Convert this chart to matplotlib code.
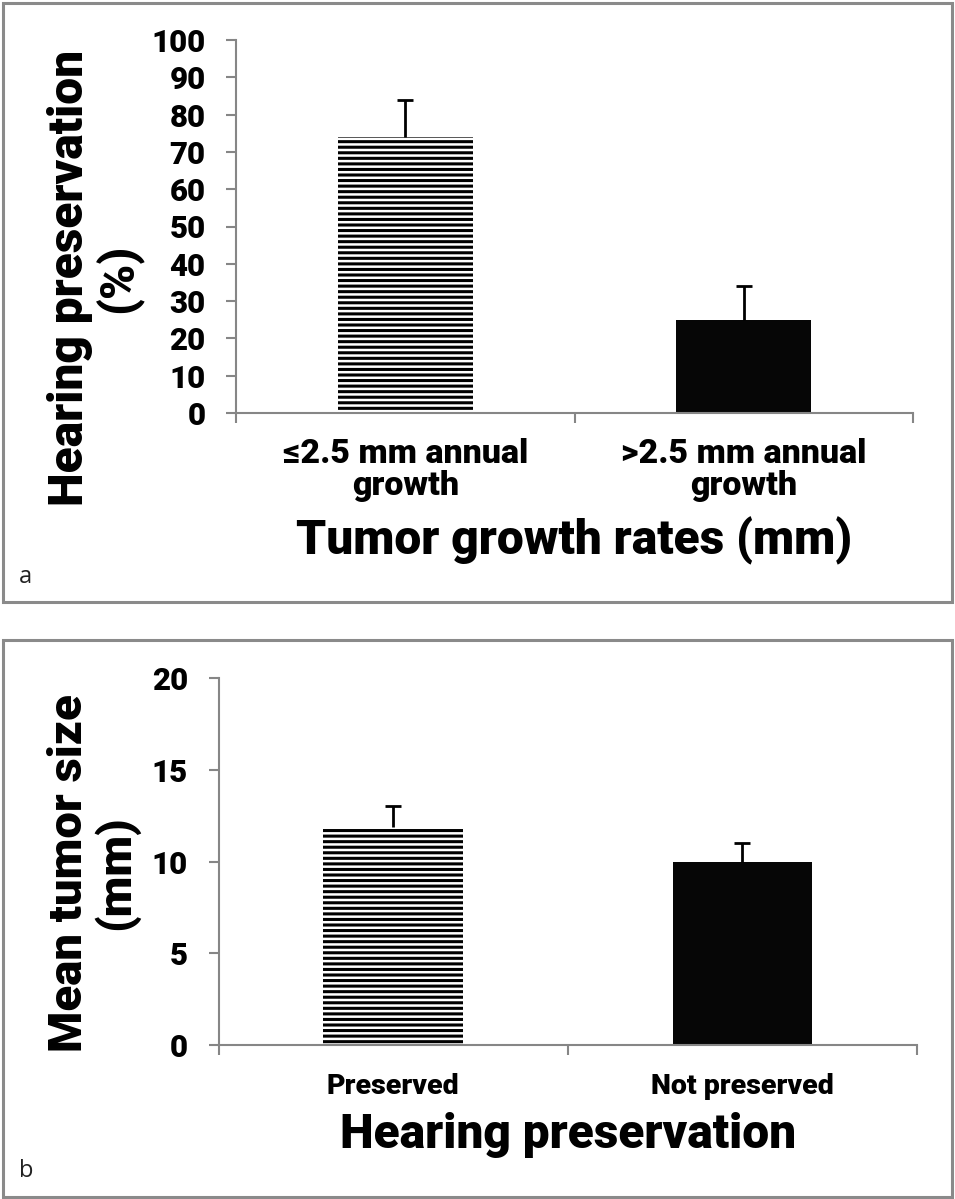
import matplotlib
matplotlib.use("Agg")
import matplotlib.pyplot as plt
from matplotlib.patches import Rectangle

# ---------------- data ----------------
cats_a = ["\u22642.5 mm annual\ngrowth", ">2.5 mm annual\ngrowth"]
vals_a = [74, 25]
err_a = [10, 9]
yticks_a = [0, 10, 20, 30, 40, 50, 60, 70, 80, 90, 100]
ylabel_a = "Hearing preservation\n(%)"
xlabel_a = "Tumor growth rates (mm)"

cats_b = ["Preserved", "Not preserved"]
vals_b = [11.9, 10]
err_b = [1.1, 1.0]
yticks_b = [0, 5, 10, 15, 20]
ylabel_b = "Mean tumor size\n(mm)"
xlabel_b = "Hearing preservation"

# ---------------- style ----------------
FONT = ["Roboto", "Liberation Sans", "DejaVu Sans"]
WEIGHT = 900
plt.rcParams["font.family"] = FONT
plt.rcParams["font.weight"] = WEIGHT
plt.rcParams["hatch.linewidth"] = 2.2

W, H = 955, 1199
fig = plt.figure(figsize=(W / 100, H / 100), dpi=100)
fig.patch.set_facecolor("white")

GRAY = "#868686"


def fx(px):
    return px / W


def fy(py):
    return 1 - py / H


def panel(left, right, top, bottom, cats, vals, errs, yticks, catsize, catpad):
    ax = fig.add_axes([fx(left), fy(bottom), fx(right) - fx(left), fy(top) - fy(bottom)])
    x = list(range(len(cats)))
    bars = ax.bar(x, vals, width=0.4, color=["white", "#060606"],
                  edgecolor=["black", "#555555"], linewidth=0, zorder=2)
    bars[0].set_hatch("---")
    bars[0].set_edgecolor("black")
    bars[0].set_linewidth(0)
    _, caps, _ = ax.errorbar(x, vals, yerr=[[0] * len(vals), errs], fmt="none",
                             ecolor="black", elinewidth=2.0, capsize=6,
                             capthick=2.0, zorder=3)
    if len(caps) == 2:
        caps[0].set_visible(False)
    ax.set_xlim(-0.5, len(cats) - 0.5)
    ax.set_ylim(yticks[0], yticks[-1])
    for s in ("top", "right"):
        ax.spines[s].set_visible(False)
    for s in ("left", "bottom"):
        ax.spines[s].set_color(GRAY)
        ax.spines[s].set_linewidth(1.5)
    ax.set_yticks(yticks)
    ax.tick_params(axis="y", length=7, width=1.5, color=GRAY, labelsize=22.5, pad=15)
    ax.set_xticks([i - 0.5 for i in range(len(cats) + 1)])
    ax.set_xticklabels([])
    ax.tick_params(axis="x", which="major", length=7, width=1.5, color=GRAY)
    ax.set_xticks(x, minor=True)
    ax.set_xticklabels(cats, minor=True, fontsize=catsize, linespacing=1.0)
    ax.tick_params(axis="x", which="minor", length=0, pad=catpad)
    for lbl in ax.get_yticklabels() + ax.get_xticklabels(minor=True):
        lbl.set_fontweight(WEIGHT)
    return ax


ax_a = panel(236, 913, 40, 413, cats_a, vals_a, err_a, yticks_a, 24.5, 18)
ax_b = panel(218.6, 917, 678, 1045, cats_b, vals_b, err_b, yticks_b, 20.5, 20)

# axis titles
fig.text(fx(95), fy(278), ylabel_a, rotation=90, ha="center", va="center",
         multialignment="center", fontsize=34.5, fontweight=WEIGHT, linespacing=1.05)
fig.text(fx(574), fy(541), xlabel_a, ha="center", va="center",
         fontsize=34.5, fontweight=WEIGHT)
fig.text(fx(93), fy(873), ylabel_b, rotation=90, ha="center", va="center",
         multialignment="center", fontsize=34, fontweight=WEIGHT, linespacing=1.05)
fig.text(fx(568), fy(1135), xlabel_b, ha="center", va="center",
         fontsize=34.5, fontweight=WEIGHT)

# panel letters
fig.text(fx(19), fy(577), "a", ha="left", va="center", fontsize=17,
         fontweight="normal", family=["Open Sans", "DejaVu Sans"], color="#222222")
fig.text(fx(19), fy(1171), "b", ha="left", va="center", fontsize=17,
         fontweight="normal", family=["Open Sans", "DejaVu Sans"], color="#222222")

# panel frames
for (x0, y0, x1, y1) in [(2.5, 2.5, 951.5, 602), (2.5, 640, 951.5, 1197)]:
    fig.add_artist(Rectangle((fx(x0), fy(y1)), fx(x1) - fx(x0), fy(y0) - fy(y1),
                             transform=fig.transFigure, fill=False,
                             edgecolor="#8a8a8a", linewidth=2.2))

fig.savefig("out.png", dpi=100, facecolor="white")
